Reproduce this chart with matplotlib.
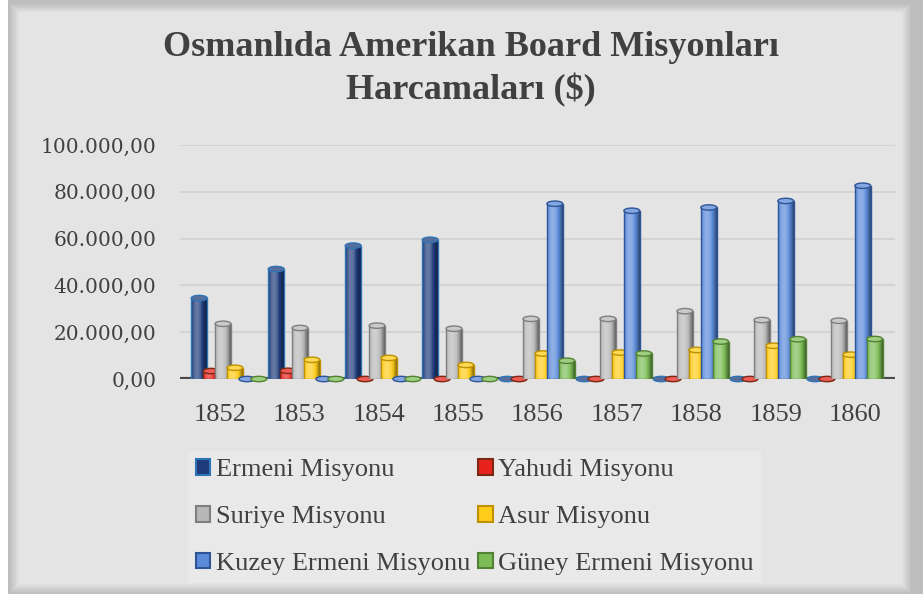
import numpy as np
import matplotlib
matplotlib.use("Agg")
import matplotlib.pyplot as plt
from matplotlib.patches import Rectangle, Ellipse, Patch
from matplotlib.colors import to_rgb
from matplotlib.ticker import FuncFormatter

# values (USD)
years = ["1852", "1853", "1854", "1855", "1856", "1857", "1858", "1859", "1860"]
ermeni = [34600, 47000, 57000, 59500, 0, 0, 0, 0, 0]
yahudi = [3400, 3500, 0, 0, 0, 0, 0, 0, 0]
suriye = [23600, 21800, 22800, 21500, 25700, 25700, 29000, 25200, 24900]
asur = [4800, 8200, 9000, 6000, 10900, 11300, 12400, 14200, 10400]
kuzey = [0, 0, 0, 0, 74900, 71900, 73300, 76100, 82600]
guney = [0, 0, 0, 0, 7800, 10900, 16000, 17000, 17100]

series_names = ["Ermeni Misyonu", "Yahudi Misyonu", "Suriye Misyonu",
                "Asur Misyonu", "Kuzey Ermeni Misyonu", "Güney Ermeni Misyonu"]
series_vals = [ermeni, yahudi, suriye, asur, kuzey, guney]
face_cols = ["#1f3b7a", "#e8231e", "#b8b8b8", "#ffcc1a", "#5a8ad8", "#7cbd57"]
edge_cols = ["#2e75b6", "#7a2a12", "#7f7f7f", "#bf9000", "#2f5597", "#548235"]

BG = "#e4e4e4"
TXT = "#404040"


def mix(c, other, a):
    c = np.array(to_rgb(c))
    return tuple(c * (1 - a) + np.array(other) * a)


def gradient(c, n=48):
    t = np.linspace(-1, 1, n)
    s = 1 - (t + 0.25) ** 2
    row = []
    for v in s:
        if v > 0.55:
            row.append(mix(c, (1, 1, 1), (v - 0.55) * 0.7))
        else:
            row.append(mix(c, (0, 0, 0), (0.55 - v) * 0.45))
    return np.array(row)[None, :, :]


def cylinder(ax, x, h, w, color, edge, z):
    eh = 2300
    if h > 0:
        ax.imshow(gradient(color), extent=(x - w / 2, x + w / 2, 0, h),
                  aspect="auto", zorder=z, interpolation="bilinear")
        ax.add_patch(Rectangle((x - w / 2, 0), w, h, fill=False,
                               edgecolor=edge, lw=1, zorder=z + 0.1))
    ax.add_patch(Ellipse((x, h), w, eh, facecolor=mix(color, (1, 1, 1), 0.25),
                         edgecolor=edge, lw=1, zorder=z + 0.2, clip_on=False))


fig = plt.figure(figsize=(9.23, 5.94), dpi=100)
fig.patch.set_facecolor("white")

# chart frame with a soft shadow
W, H = 923, 594
fig.patches.append(Rectangle((8 / W, 0), 1 - 8 / W, 1, transform=fig.transFigure,
                             facecolor="#bdbdbd", edgecolor="none", zorder=-3))
for k in range(10):
    g = 0.76 + 0.015 * k
    fig.patches.append(Rectangle(((10 + k) / W, (k + 1) / H), (W - 12 - 2 * k - 10) / W,
                                 (H - 5 - 2 * k) / H, transform=fig.transFigure,
                                 facecolor=(g, g, g), edgecolor="none", zorder=-2))
fig.patches.append(Rectangle((22 / W, 12 / H), (W - 46) / W, (H - 24) / H,
                             transform=fig.transFigure, facecolor=BG,
                             edgecolor="none", zorder=-1))

ax = fig.add_axes([180 / W, 1 - 379 / H, 715 / W, 234 / H])
ax.set_facecolor("none")

x = np.arange(len(years))
w = 0.2
step = 0.15
# the 3D view squeezes the clusters slightly toward the middle
group_x = 0.117 + 0.969 * x
for k, (vals, fc, ec) in enumerate(zip(series_vals, face_cols, edge_cols)):
    for i, v in enumerate(vals):
        cylinder(ax, group_x[i] + (k - 2.5) * step, v, w, fc, ec, 3 + k)

ax.set_xlim(-0.5, len(years) - 0.5)
ax.set_ylim(0, 100000)
ax.set_yticks(np.arange(0, 100001, 20000))
ax.yaxis.set_major_formatter(FuncFormatter(
    lambda v, p: f"{v:,.2f}".replace(",", "X").replace(".", ",").replace("X", ".")))
ax.set_xticks(x)
ax.set_xticklabels(years)
ax.grid(axis="y", color="#d2d2d2", lw=1.3, zorder=0)
ax.set_axisbelow(True)
ax.axhline(0, color="#4a4a4a", lw=3, zorder=2)
for s in ax.spines.values():
    s.set_visible(False)
ax.tick_params(length=0)
ax.tick_params(axis="y", pad=17, labelsize=14.5, labelcolor=TXT)
ax.tick_params(axis="x", pad=18, labelsize=19, labelcolor=TXT)
for lab in ax.get_yticklabels():
    lab.set_fontfamily("DejaVu Serif")
for lab in ax.get_xticklabels():
    lab.set_fontfamily("Liberation Serif")

fig.text(471 / W, 1 - 48 / H, "Osmanlıda Amerikan Board Misyonları",
         ha="center", va="center", fontsize=26, fontweight="bold",
         family="Liberation Serif", color=TXT)
fig.text(471 / W, 1 - 90 / H, "Harcamaları ($)",
         ha="center", va="center", fontsize=26, fontweight="bold",
         family="Liberation Serif", color=TXT)

# legend is filled row by row in the reference
order = [0, 2, 4, 1, 3, 5]
handles = [Patch(facecolor=face_cols[i], edgecolor=edge_cols[i], lw=1.5) for i in order]
labels = [series_names[i] for i in order]
leg = fig.legend(handles, labels, loc="upper left",
                 bbox_to_anchor=(188 / W, 1 - 451 / H), bbox_transform=fig.transFigure,
                 ncol=2, frameon=True, fancybox=False, borderaxespad=0,
                 borderpad=0.3, handlelength=0.55, handleheight=0.55,
                 handletextpad=0.2, columnspacing=0.3, labelspacing=0.93,
                 prop={"family": "Liberation Serif", "size": 19})
leg.get_frame().set_facecolor("#ebebeb")
leg.get_frame().set_edgecolor("none")
for t in leg.get_texts():
    t.set_color(TXT)

fig.savefig("out.png", dpi=100)
